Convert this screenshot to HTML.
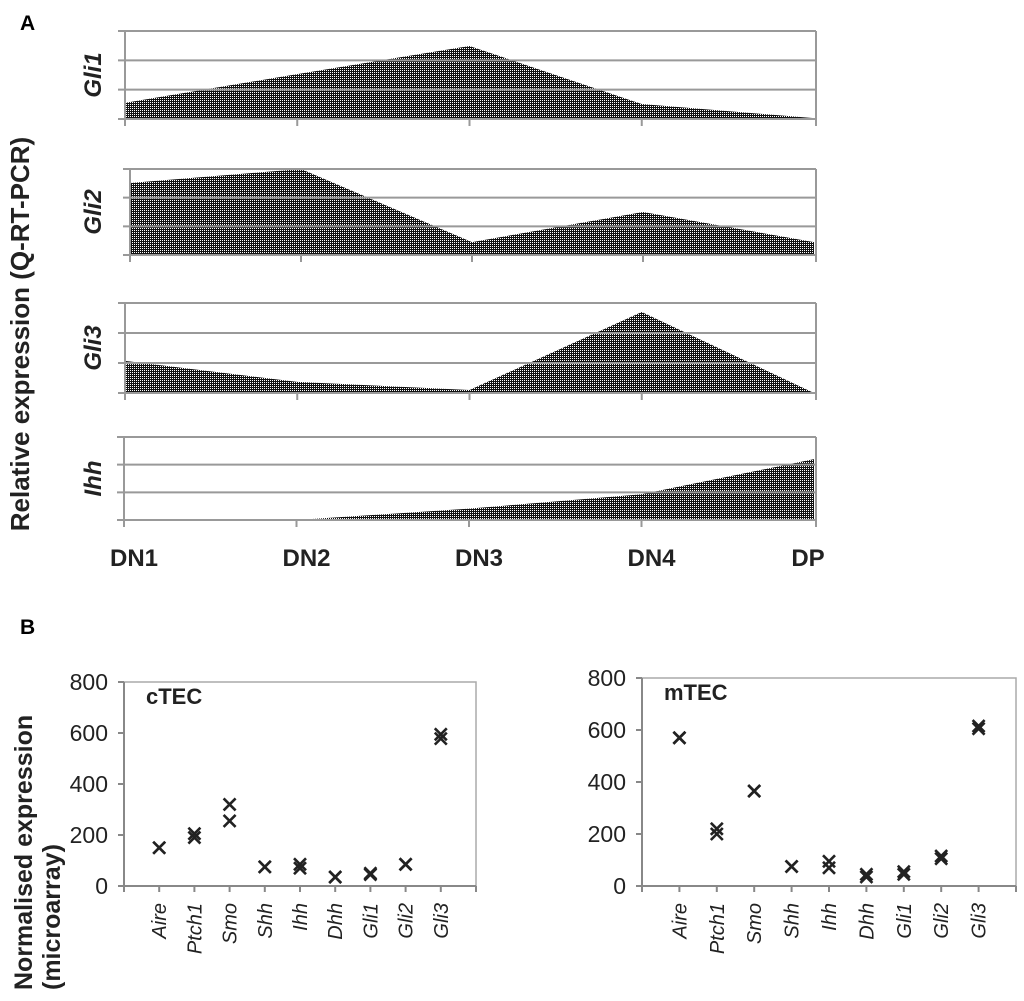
<!DOCTYPE html>
<html><head><meta charset="utf-8"><style>
body{margin:0;background:#fff;}
svg{display:block;font-family:"Liberation Sans",Arial,sans-serif;}
</style></head><body>
<svg id="fig" width="1024" height="1001" viewBox="0 0 1024 1001">
<defs>
<pattern id="dots" width="2" height="2" patternUnits="userSpaceOnUse">
<rect width="2" height="2" fill="#111"/><rect width="1" height="1" fill="#fff"/>
</pattern>
</defs>
<text x="20" y="30" font-size="21" font-weight="bold">A</text>
<text x="20" y="634" font-size="21" font-weight="bold">B</text>
<text transform="translate(29,334) rotate(-90)" text-anchor="middle" font-size="26" font-weight="bold" fill="#222">Relative expression (Q-RT-PCR)</text>
<text transform="translate(32,990) rotate(-90)" text-anchor="start" font-size="25" font-weight="bold" fill="#222">Normalised expression</text>
<text transform="translate(60,990) rotate(-90)" text-anchor="start" font-size="25" font-weight="bold" fill="#222">(microarray)</text>
<g id="panelA"></g>
<g id="panelB"></g>
</svg>
<script>
const stages = ["DN1","DN2","DN3","DN4","DP"];
const genesA = ["Gli1","Gli2","Gli3","Ihh"];
const gli1Vals = [0.55,1.53,2.49,0.51,0.03];
const gli2Vals = [2.51,3.0,0.45,1.5,0.45];
const gli3Vals = [1.07,0.37,0.1,2.7,0.0];
const ihhVals = [0.0,0.0,0.41,0.93,2.2];
const categoriesB = ["Aire","Ptch1","Smo","Shh","Ihh","Dhh","Gli1","Gli2","Gli3"];
const cTEC1 = [150,205,320,75,85,35,50,85,595];
const cTEC2 = [150,190,255,75,70,35,45,85,578];
const mTEC1 = [570,220,365,75,95,45,55,115,615];
const mTEC2 = [570,200,365,75,70,35,45,105,605];
const yTicksB = [0,200,400,600,800];

const NS="http://www.w3.org/2000/svg";
function mk(tag,attrs,parent){const e=document.createElementNS(NS,tag);for(const k in attrs)e.setAttribute(k,attrs[k]);parent.appendChild(e);return e;}

const A=document.getElementById('panelA');
const seriesA=[gli1Vals,gli2Vals,gli3Vals,ihhVals];
const boxes=[{l:125,t:31,b:119},{l:130,t:169,b:255},{l:125,t:303,b:393},{l:124,t:437,b:520}];
const right=814, yMaxA=3;
seriesA.forEach((vals,i)=>{
  const bx=boxes[i];
  const g=mk('g',{},A);
  
  
  const xs=k=>bx.l+(right-bx.l)*k/(stages.length-1);
  const ys=v=>bx.b-(bx.b-bx.t)*v/yMaxA;
  let d='M'+xs(0)+','+bx.b;
  vals.forEach((v,k)=>{d+=' L'+xs(k)+','+ys(v);});
  d+=' L'+xs(vals.length-1)+','+bx.b+' Z';
  const p=mk('path',{d:d,fill:'url(#dots)'},g);
  
  
  for(let t=0;t<=yMaxA;t++){
    const y=ys(t);
    const ln=mk('line',{x1:bx.l-7,x2:right+2,y1:y,y2:y,stroke:'#999','stroke-width':2},g);
    
    
  }
  mk('line',{x1:bx.l,x2:bx.l,y1:bx.t,y2:bx.b+7,stroke:'#999','stroke-width':2},g);
  mk('line',{x1:right+2,x2:right+2,y1:bx.t,y2:bx.b+7,stroke:'#999','stroke-width':2},g);
  for(let k=1;k<stages.length-1;k++) mk('line',{x1:xs(k),x2:xs(k),y1:bx.b,y2:bx.b+7,stroke:'#999','stroke-width':2},g);
  const lab=mk('text',{transform:'translate(101,'+((bx.t+bx.b)/2)+') rotate(-90)','text-anchor':'middle','font-size':24,'font-weight':'bold','font-style':'italic',fill:'#222'},g);
  lab.textContent=genesA[i];
  
  
});
stages.forEach((s,k)=>{
  const x=124+(right-124)*k/(stages.length-1);
  const t=mk('text',{x:k===4?x-6:x+10,y:566,'text-anchor':'middle','font-size':24,'font-weight':'bold',fill:'#222'},A);
  t.textContent=s;
  
  
});

const B=document.getElementById('panelB');
function scatter(name,l,r,t,b,s1,s2){
  const g=mk('g',{},B);
  
  
  const n=categoriesB.length+1;
  const xs=k=>l+(r-l)*(k+1)/n;
  const ys=v=>b-(b-t)*v/800;
  mk('rect',{x:l,y:t,width:r-l,height:b-t,fill:'none',stroke:'#aaa','stroke-width':1.5},g);
  mk('line',{x1:l,x2:r,y1:b,y2:b,stroke:'#888','stroke-width':2},g);
  mk('line',{x1:l,x2:l,y1:t,y2:b,stroke:'#888','stroke-width':2},g);
  yTicksB.forEach(v=>{
    mk('line',{x1:l-6,x2:l,y1:ys(v),y2:ys(v),stroke:'#888','stroke-width':2},g);
    const tx=mk('text',{x:l-16,y:ys(v)+8,'text-anchor':'end','font-size':23,fill:'#222'},g);
    tx.textContent=v;
    
    
  });
  for(let k=0;k<=n;k++) mk('line',{x1:l+(r-l)*k/n,x2:l+(r-l)*k/n,y1:b,y2:b+6,stroke:'#888','stroke-width':2},g);
  categoriesB.forEach((c,k)=>{
    const tx=mk('text',{transform:'translate('+(xs(k)+7)+',903) rotate(-90)','text-anchor':'end','font-size':20,'font-style':'italic',fill:'#222'},g);
    tx.textContent=c;
    
    
    [s1[k],s2[k]].forEach(v=>{
      const x=xs(k),y=ys(v),h=6;
      const m=mk('path',{d:'M'+(x-h)+','+(y-h)+' L'+(x+h)+','+(y+h)+' M'+(x-h)+','+(y+h)+' L'+(x+h)+','+(y-h),stroke:'#222','stroke-width':2.6,fill:'none'},g);
      
      
    });
  });
  const tt=mk('text',{x:l+22,y:t+22,'font-size':22,'font-weight':'bold',fill:'#222'},g);
  tt.textContent=name;
  
  
}
scatter('cTEC',124,476,682,886,cTEC1,cTEC2);
scatter('mTEC',642,1016,678,886,mTEC1,mTEC2);
</script>
</body></html>
